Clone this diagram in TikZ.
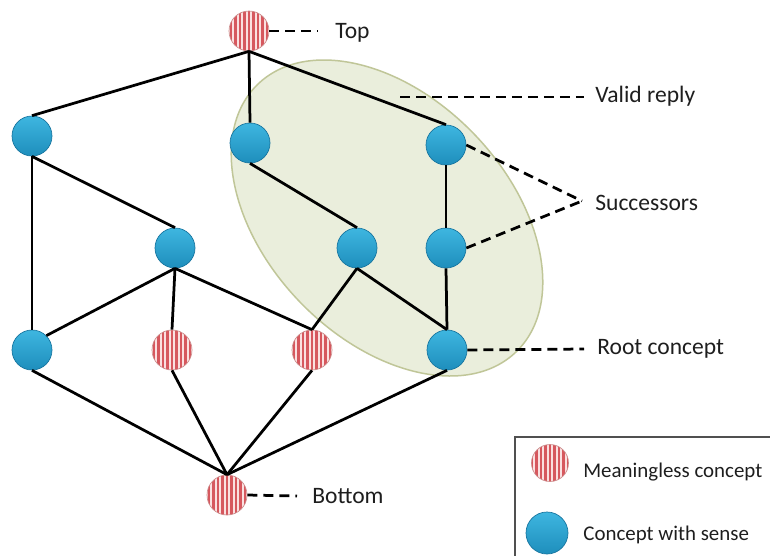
\documentclass[tikz,border=0pt]{standalone}
\usepackage{fontspec}
\setmainfont{Carlito}
\definecolor{blueA}{RGB}{62,182,224}
\definecolor{blueB}{RGB}{30,142,188}
\definecolor{blueE}{RGB}{24,118,160}
\definecolor{pinkbg}{RGB}{250,224,224}
\definecolor{pinkE}{RGB}{205,140,140}
\definecolor{stripe}{RGB}{214,88,94}
\definecolor{ellfill}{RGB}{234,238,220}
\definecolor{elldraw}{RGB}{192,198,152}
\definecolor{txt}{RGB}{30,30,30}
\definecolor{legbox}{RGB}{80,80,80}
\begin{document}
\begin{tikzpicture}[x=0.02cm,y=-0.02cm,
  blueball/.style={circle,minimum size=0.8cm,inner sep=0pt,top color=blueA,bottom color=blueB,draw=blueE,line width=0.4pt},
  redball/.style={circle,minimum size=0.8cm,inner sep=0pt,fill=pinkbg,draw=pinkE,line width=0.4pt,
    path picture={\foreach \k in {-5,...,5}{\fill[stripe] ([xshift=\k*0.09cm-0.022cm]path picture bounding box.south) rectangle ([xshift=\k*0.09cm+0.022cm]path picture bounding box.north);}}},
  lnk/.style={line width=0.055cm,black},
  leader/.style={line width=0.055cm,black,dash pattern=on 0.2cm off 0.12cm},
  lbl/.style={anchor=base west,inner sep=0pt,font=\fontsize{13.4pt}{16pt}\selectfont,text=txt},
  leg/.style={anchor=base west,inner sep=0pt,font=\fontsize{11.9pt}{14pt}\selectfont,text=txt}]
\useasboundingbox (0,0) rectangle (770,555);
\clip (0,0) rectangle (770,555);
\fill[white] (0,0) rectangle (770,555);

% valid reply region
\draw[fill=ellfill,draw=elldraw,line width=0.03cm,rotate around={-46:(387,218)}] (387,218) ellipse [x radius=3.72cm, y radius=2.42cm];

% nodes
\node[redball] (top) at (249,31) {};
\node[blueball] (a1) at (32,136) {};
\node[blueball] (a2) at (250,143) {};
\node[blueball] (a3) at (446,145) {};
\node[blueball] (b1) at (175,248) {};
\node[blueball] (b2) at (357,248) {};
\node[blueball] (b3) at (446,248) {};
\node[blueball] (c1) at (32,350) {};
\node[redball] (c2) at (172,350) {};
\node[redball] (c3) at (312,350) {};
\node[blueball] (c4) at (447,350) {};
\node[redball] (bot) at (227,495) {};

% edges
\draw[lnk] (top.south) -- (a1.north);
\draw[lnk] (top.south) -- (a2.north);
\draw[lnk] (top.south) -- (a3.north);
\draw[lnk] (a1.south) -- (c1.north);
\draw[lnk] (a1.south) -- (b1.north);
\draw[lnk] (a2.south) -- (b2.north);
\draw[lnk] (a3.south) -- (b3.north);
\draw[lnk] (b3.south) -- (c4.north);
\draw[lnk] (b1.south) -- (c1.north east);
\draw[lnk] (b1.south) -- (c2.north);
\draw[lnk] (b1.south) -- (c3.north);
\draw[lnk] (b2.south) -- (c3.north);
\draw[lnk] (b2.south) -- (c4.north);
\draw[lnk] (c1.south) -- (bot.north);
\draw[lnk] (c2.south) -- (bot.north);
\draw[lnk] (c3.south) -- (bot.north);
\draw[lnk] (c4.south) -- (bot.north);

% leader lines
\coordinate (topEnd) at (318,31);
\coordinate (vrA) at (400,97);
\coordinate (vrB) at (584,97);
\coordinate (sucEnd) at (582,201);
\coordinate (rootEnd) at (584,349);
\coordinate (botEnd) at (297,496);
\draw[leader] (top.east) -- (topEnd);
\draw[leader] (vrA) -- (vrB);
\draw[leader] (a3.east) -- (sucEnd);
\draw[leader] (b3.east) -- (sucEnd);
\draw[leader] (c4.east) -- (rootEnd);
\draw[leader] (bot.east) -- (botEnd);

% labels
\node[lbl] (tTop) at (335,38) {Top};
\node[lbl] (tValid) at (595,102) {Valid reply};
\node[lbl] (tSucc) at (595,210) {Successors};
\node[lbl] (tRoot) at (597,354) {Root concept};
\node[lbl] (tBot) at (312,503) {Bottom};

% legend
\draw[legbox,line width=0.03cm] (515,437) rectangle (800,580);
\node[redball,minimum size=0.74cm] (lgR) at (550,463) {};
\node[blueball,minimum size=0.84cm] (lgB) at (547,533) {};
\node[leg] (lgRt) at (583,477) {Meaningless concept};
\node[leg] (lgBt) at (583,540) {Concept with sense};
\end{tikzpicture}
\end{document}
